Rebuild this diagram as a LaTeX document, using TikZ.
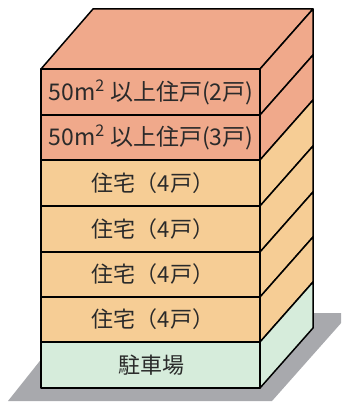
\documentclass[tikz,border=0pt]{standalone}
\usepackage{fontspec}
\newfontfamily\jp{Noto Sans CJK JP}
\definecolor{salmon}{HTML}{F0A98B}
\definecolor{apricot}{HTML}{F6CD95}
\definecolor{mint}{HTML}{D6ECDB}
\definecolor{shadowgray}{HTML}{A8A9AD}
\definecolor{ink}{HTML}{2A2A2A}
\begin{document}
\begin{tikzpicture}[x=1pt,y=-1pt,
  edge/.style={draw=black, line width=1.5pt, line join=round},
  floorlabel/.style={font=\jp\fontsize{22}{22}\selectfont, text=ink, inner sep=0pt},
  widelabel/.style={font=\jp\fontsize{23}{23}\selectfont, text=ink, inner sep=0pt}]
\useasboundingbox (0,0) rectangle (341,403);
\clip (0,0) rectangle (341,403);
% ground shadow
\fill[shadowgray] (78,313) -- (350,313) -- (272,401) -- (8,401) -- cycle;
% top face
\filldraw[fill=salmon, edge] (41,69) -- (93,9) -- (313,9) -- (260,69) -- cycle;
% storeys: top edge / bottom edge / colour
\foreach \t/\b/\c in {69/115/salmon, 115/160/salmon, 160/206/apricot,
                      206/252/apricot, 252/297/apricot, 297/342/apricot, 342/388/mint}{
  \filldraw[fill=\c, edge] (260,\t) -- (313,\t-60) -- (313,\b-60) -- (260,\b) -- cycle;
  \filldraw[fill=\c, edge] (41,\t) rectangle (260,\b);
}
% storey labels
\node[widelabel] (s7) at (151,92) {50m\textsuperscript{2} 以上住戸(2戸)};
\node[widelabel] (s6) at (151,137.5) {50m\textsuperscript{2} 以上住戸(3戸)};
\node[floorlabel] (s5) at (153,183) {住宅（4戸）};
\node[floorlabel] (s4) at (153,229) {住宅（4戸）};
\node[floorlabel] (s3) at (153,274.5) {住宅（4戸）};
\node[floorlabel] (s2) at (153,319.5) {住宅（4戸）};
\node[floorlabel] (s1) at (151,365) {駐車場};
\end{tikzpicture}
\end{document}
